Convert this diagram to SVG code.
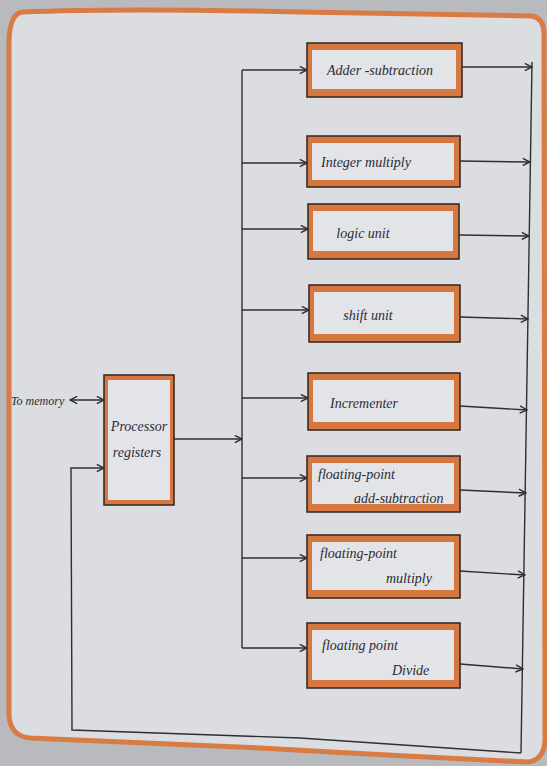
<svg xmlns="http://www.w3.org/2000/svg" width="547" height="766" viewBox="0 0 547 766">
<defs>
<style>
.box{fill:#d5773f;stroke:#3a2b28;stroke-width:1.6}
.inner{fill:#e3e4e7}
.lbl{font-family:"Liberation Serif",serif;font-style:italic;font-size:14px;fill:#2b2b38}
.wire{fill:none;stroke:#2e2e33;stroke-width:1.4}
</style>
<marker id="ah" viewBox="0 0 10 10" refX="9" refY="5" markerWidth="9" markerHeight="9" markerUnits="userSpaceOnUse" orient="auto-start-reverse">
<path d="M1,1 L9,5 L1,9" fill="none" stroke="#2e2e33" stroke-width="1.6"/>
</marker>
</defs>
<rect x="0" y="0" width="547" height="766" fill="#b9babd"/>
<path d="M22,12 Q120,8 300,12 Q420,14 532,16 Q543,18 544,32 L545,740 Q544,760 528,762 Q400,756 260,748 Q120,742 30,738 Q10,736 9,715 L9,40 Q10,14 22,12 Z" fill="#dcdde1" stroke="#d87b44" stroke-width="5"/>

<g id="connectors">
<line class="wire" x1="242" y1="70" x2="242" y2="648"/>
<line class="wire" x1="174" y1="439" x2="242" y2="439" marker-end="url(#ah)"/>
<line class="wire" x1="242" y1="70" x2="307" y2="70" marker-end="url(#ah)"/>
<line class="wire" x1="242" y1="163" x2="307" y2="163" marker-end="url(#ah)"/>
<line class="wire" x1="242" y1="229" x2="308" y2="229" marker-end="url(#ah)"/>
<line class="wire" x1="242" y1="310" x2="309" y2="310" marker-end="url(#ah)"/>
<line class="wire" x1="242" y1="398" x2="308" y2="398" marker-end="url(#ah)"/>
<line class="wire" x1="242" y1="478" x2="307" y2="478" marker-end="url(#ah)"/>
<line class="wire" x1="242" y1="558" x2="307" y2="558" marker-end="url(#ah)"/>
<line class="wire" x1="242" y1="648" x2="307" y2="648" marker-end="url(#ah)"/>
<line class="wire" x1="532" y1="62" x2="521" y2="753"/>
<line class="wire" x1="462" y1="67" x2="532" y2="67" marker-end="url(#ah)"/>
<line class="wire" x1="460" y1="161" x2="530" y2="162" marker-end="url(#ah)"/>
<line class="wire" x1="459" y1="235" x2="529" y2="236" marker-end="url(#ah)"/>
<line class="wire" x1="460" y1="317" x2="528" y2="319" marker-end="url(#ah)"/>
<line class="wire" x1="460" y1="406" x2="527" y2="410" marker-end="url(#ah)"/>
<line class="wire" x1="460" y1="490" x2="526" y2="493" marker-end="url(#ah)"/>
<line class="wire" x1="460" y1="571" x2="525" y2="575" marker-end="url(#ah)"/>
<line class="wire" x1="460" y1="664" x2="523" y2="669" marker-end="url(#ah)"/>
<polyline class="wire" points="521,753 300,738 72,730 71,468 104,468" marker-end="url(#ah)"/>
<line class="wire" x1="70" y1="400" x2="104" y2="400" marker-start="url(#ah)" marker-end="url(#ah)"/>
</g>

<g id="n-memory"><text class="lbl" x="11" y="405" style="font-size:12px">To memory</text></g>

<g id="n-registers">
<rect class="box" x="104" y="375" width="70" height="130"/>
<rect class="inner" x="108" y="380" width="62" height="120"/>
<text class="lbl" x="139" y="431" text-anchor="middle">Processor</text>
<text class="lbl" x="137" y="457" text-anchor="middle">registers</text>
</g>

<g id="n-adder">
<rect class="box" x="307" y="43" width="155" height="54"/>
<rect class="inner" x="312" y="50" width="144" height="39"/>
<text class="lbl" x="380" y="75" text-anchor="middle">Adder -subtraction</text>
</g>
<g id="n-intmul">
<rect class="box" x="307" y="136" width="153" height="51"/>
<rect class="inner" x="312" y="143" width="142" height="37"/>
<text class="lbl" x="366" y="167" text-anchor="middle">Integer multiply</text>
</g>
<g id="n-logic">
<rect class="box" x="308" y="204" width="151" height="55"/>
<rect class="inner" x="313" y="211" width="140" height="40"/>
<text class="lbl" x="363" y="238" text-anchor="middle">logic unit</text>
</g>
<g id="n-shift">
<rect class="box" x="309" y="285" width="151" height="57"/>
<rect class="inner" x="314" y="292" width="140" height="42"/>
<text class="lbl" x="368" y="320" text-anchor="middle">shift unit</text>
</g>
<g id="n-incr">
<rect class="box" x="308" y="373" width="152" height="57"/>
<rect class="inner" x="313" y="380" width="141" height="42"/>
<text class="lbl" x="364" y="408" text-anchor="middle">Incrementer</text>
</g>
<g id="n-fpadd">
<rect class="box" x="307" y="456" width="153" height="56"/>
<rect class="inner" x="312" y="463" width="142" height="41"/>
<text class="lbl" x="318" y="479">floating-point</text>
<text class="lbl" x="354" y="503">add-subtraction</text>
</g>
<g id="n-fpmul">
<rect class="box" x="307" y="535" width="153" height="63"/>
<rect class="inner" x="312" y="542" width="142" height="48"/>
<text class="lbl" x="320" y="558">floating-point</text>
<text class="lbl" x="386" y="583">multiply</text>
</g>
<g id="n-fpdiv">
<rect class="box" x="307" y="623" width="153" height="65"/>
<rect class="inner" x="312" y="630" width="142" height="50"/>
<text class="lbl" x="322" y="650">floating point</text>
<text class="lbl" x="392" y="675">Divide</text>
</g>
</svg>
